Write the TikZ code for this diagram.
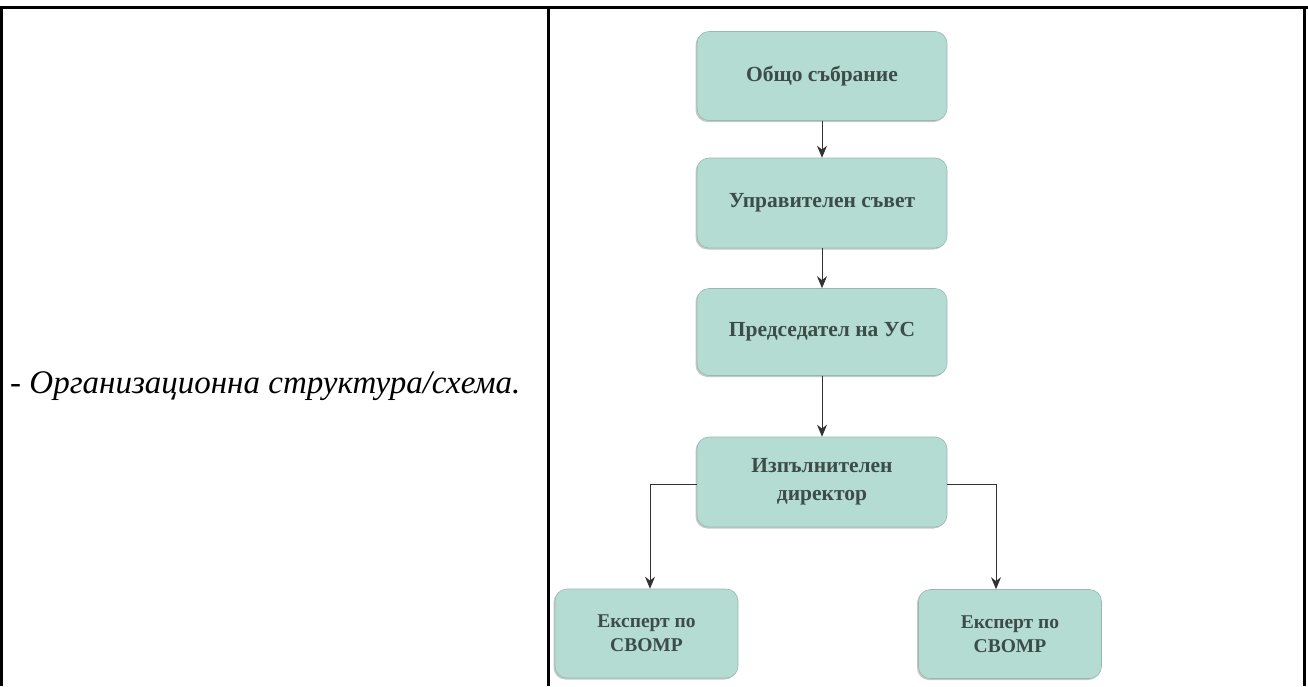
\documentclass[tikz,border=0pt]{standalone}
\usepackage{fontspec}
\setmainfont{Liberation Serif}
\usepackage{tikz}
\usetikzlibrary{shadows, arrows.meta}
\definecolor{boxfill}{RGB}{180, 220, 210}
\definecolor{boxedge}{RGB}{150, 185, 176}
\definecolor{boxtext}{RGB}{60, 76, 72}
\definecolor{linkgray}{RGB}{50, 50, 50}

\begin{document}
\begin{tikzpicture}[x=1pt, y=-1pt,
	unit/.style={rectangle, rounded corners=12pt, fill=boxfill, draw=boxedge, line width=0.6pt,
		drop shadow={shadow xshift=-1.5pt, shadow yshift=-1.5pt, fill=gray!55, opacity=0.8},
		text=boxtext, font=\bfseries\fontsize{21.5}{28}\selectfont, align=center,
		minimum width=250pt, inner sep=0pt},
	expert/.style={unit, minimum width=183pt, minimum height=89pt, font=\bfseries\fontsize{19.5}{24}\selectfont},
	link/.style={linkgray, line width=0.9pt, -{Stealth[length=12pt, width=10pt]}}]
	\useasboundingbox (0,0) rectangle (1308,686);
	% table frame
	\draw[line width=3pt] (0,7) -- (1308,7);
	\draw[line width=3pt] (1.5,7) -- (1.5,686);
	\draw[line width=3pt] (548,7) -- (548,686);
	\draw[line width=3pt] (1304.5,7) -- (1304.5,686);
	% left cell
	\node[anchor=west, font=\itshape\fontsize{33}{38}\selectfont, inner sep=0pt] (caption) at (10,386) {- Организационна структура/схема.};
	% boxes
	\node[unit, minimum height=89pt] (sobranie) at (822,76) {Общо събрание};
	\node[unit, minimum height=90pt] (savet) at (822,203) {Управителен съвет};
	\node[unit, minimum height=87pt] (predsedatel) at (822,332) {Председател на УС};
	\node[unit, minimum height=90pt] (direktor) at (822,482) {Изпълнителен\\директор};
	\node[expert] (ekspertA) at (646.5,633.5) {Експерт по\\СВОМР};
	\node[expert] (ekspertB) at (1010,634) {Експерт по\\СВОМР};
	% links
	\draw[link] (sobranie) -- (savet);
	\draw[link] (savet) -- (predsedatel);
	\draw[link] (predsedatel) -- (direktor);
	\draw[link] ([yshift=-2pt]direktor.west) -| ([xshift=3.5pt]ekspertA.north);
	\draw[link] ([yshift=-2pt]direktor.east) -| ([xshift=-14pt]ekspertB.north);
\end{tikzpicture}
\end{document}
